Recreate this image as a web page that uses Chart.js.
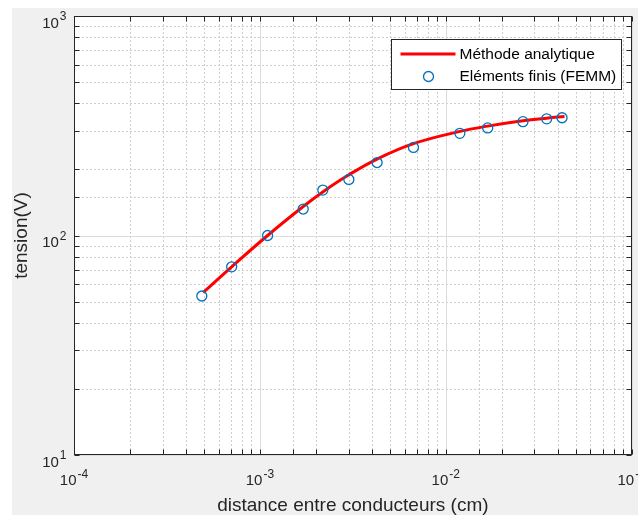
<!DOCTYPE html>
<html>
<head>
<meta charset="utf-8">
<script src="https://cdn.jsdelivr.net/npm/chart.js@4.4.1/dist/chart.umd.min.js"></script>
<style>
  html, body { margin: 0; padding: 0; background: #fff; overflow: hidden; }
  #wrap { position: absolute; left: 12px; top: 8px; width: 626px; height: 507px; background: #f0f0f0; }
</style>
</head>
<body>
<div id="wrap"><canvas id="myChart" width="626" height="507"></canvas></div>
<script>
// values (distance in cm, tension in V)
const femmDistance = [4.87e-4, 7.05e-4, 1.10e-3, 1.71e-3, 2.18e-3, 3.01e-3, 4.27e-3, 6.70e-3, 1.19e-2, 1.68e-2, 2.60e-2, 3.49e-2, 4.22e-2];
const femmTension = [53, 72, 100, 132, 161, 180, 215, 252, 292, 309, 330, 340, 344];

const analyticDistance = [4.95e-4, 7.05e-4, 1.10e-3, 1.71e-3, 2.18e-3, 3.01e-3, 4.27e-3, 6.70e-3, 1.19e-2, 1.68e-2, 2.60e-2, 3.49e-2, 4.35e-2];
const analyticTension = [55, 72, 100, 135.5, 158, 189, 223, 262, 298, 315, 333, 342.5, 348.5];

const xTicks = [1e-4, 1e-3, 1e-2, 1e-1];
const xTickLabels = ['10^-4', '10^-3', '10^-2', '10^-1'];
const yTicks = [1e1, 1e2, 1e3];
const yTickLabels = ['10^1', '10^2', '10^3'];

const FONT = '"Liberation Sans", Arial, Helvetica, sans-serif';
const INK = '#262626';

function isDecade(v) {
    const l = Math.log10(v);
    return Math.abs(l - Math.round(l)) < 1e-6;
}

function seg(ctx, x1, y1, x2, y2) {
    ctx.beginPath();
    ctx.moveTo(x1, y1);
    ctx.lineTo(x2, y2);
    ctx.stroke();
}

// "10^-3" -> 10 with a raised exponent
function drawPower(ctx, label, x, y, align) {
    const [base, exp] = label.split('^');
    ctx.font = '15px ' + FONT;
    const wb = ctx.measureText(base).width;
    ctx.font = '12px ' + FONT;
    const we = ctx.measureText(exp).width;
    const w = wb + we + 1;
    let x0 = align === 'right' ? x - w : x - w / 2;
    ctx.textAlign = 'left';
    ctx.textBaseline = 'alphabetic';
    ctx.fillStyle = INK;
    ctx.font = '15px ' + FONT;
    ctx.fillText(base, x0, y);
    ctx.font = '12px ' + FONT;
    ctx.fillText(exp, x0 + wb + 1, y - 7.5);
}

const matlabAxes = {
    id: 'matlabAxes',
    beforeDraw(chart) {
        const {ctx, chartArea: a} = chart;
        ctx.save();
        ctx.fillStyle = '#fff';
        ctx.fillRect(a.left, a.top, a.right - a.left, a.bottom - a.top);
        ctx.restore();
    },
    beforeDatasetsDraw(chart) {
        const {ctx, chartArea: a, scales: {x, y}} = chart;
        ctx.save();
        ctx.lineWidth = 1;
        // minor grid, dotted
        ctx.strokeStyle = '#cdcdcd';
        ctx.setLineDash([2, 2]);
        x.ticks.forEach(t => {
            if (isDecade(t.value)) return;
            const px = Math.round(x.getPixelForValue(t.value)) + 0.5;
            seg(ctx, px, a.top, px, a.bottom);
        });
        y.ticks.forEach(t => {
            if (isDecade(t.value)) return;
            const py = Math.round(y.getPixelForValue(t.value)) + 0.5;
            seg(ctx, a.left, py, a.right, py);
        });
        // major grid, solid
        ctx.setLineDash([]);
        ctx.strokeStyle = '#dcdcdc';
        xTicks.forEach(v => {
            const px = Math.round(x.getPixelForValue(v)) + 0.5;
            seg(ctx, px, a.top, px, a.bottom);
        });
        yTicks.forEach(v => {
            const py = Math.round(y.getPixelForValue(v)) + 0.5;
            seg(ctx, a.left, py, a.right, py);
        });
        ctx.restore();
    },
    afterDraw(chart) {
        const {ctx, chartArea: a, scales: {x, y}} = chart;
        ctx.save();
        ctx.strokeStyle = INK;
        ctx.lineWidth = 1;
        const L = Math.round(a.left) + 0.5, R = Math.round(a.right) - 0.5;
        const T = Math.round(a.top) + 0.5, B = Math.round(a.bottom) - 0.5;
        ctx.strokeRect(L, T, R - L, B - T);
        // inward ticks on all four sides
        const len = 5;
        x.ticks.forEach(t => {
            const px = Math.round(x.getPixelForValue(t.value)) + 0.5;
            seg(ctx, px, B, px, B - len);
            seg(ctx, px, T, px, T + len);
        });
        y.ticks.forEach(t => {
            const py = Math.round(y.getPixelForValue(t.value)) + 0.5;
            seg(ctx, L, py, L + len, py);
            seg(ctx, R, py, R - len, py);
        });
        // tick labels
        xTicks.forEach((v, i) => {
            drawPower(ctx, xTickLabels[i], x.getPixelForValue(v), a.bottom + 30, 'center');
        });
        yTicks.forEach((v, i) => {
            drawPower(ctx, yTickLabels[i], a.left - 7.5, y.getPixelForValue(v) + 11.5, 'right');
        });

        // legend box
        const bx = Math.round(a.right) - 241 + 0.5, by = Math.round(a.top) + 23 + 0.5;
        const bw = 230, bh = 50;
        ctx.fillStyle = '#fff';
        ctx.fillRect(bx, by, bw, bh);
        ctx.strokeStyle = INK;
        ctx.strokeRect(bx, by, bw, bh);
        const ds = chart.data.datasets;
        const lineDs = ds.find(d => d.showLine);
        const ptDs = ds.find(d => !d.showLine);
        ctx.font = '15.5px ' + FONT;
        ctx.textAlign = 'left';
        ctx.textBaseline = 'middle';
        // line entry
        ctx.strokeStyle = lineDs.borderColor;
        ctx.lineWidth = lineDs.borderWidth;
        seg(ctx, bx + 9, by + 14.5, bx + 64, by + 14.5);
        ctx.fillStyle = '#000';
        ctx.fillText(lineDs.label, bx + 68, by + 15);
        // marker entry
        ctx.strokeStyle = ptDs.borderColor;
        ctx.lineWidth = ptDs.borderWidth;
        ctx.beginPath();
        ctx.arc(bx + 37, by + 37, ptDs.pointRadius, 0, Math.PI * 2);
        ctx.stroke();
        ctx.fillText(ptDs.label, bx + 68, by + 37.5);
        ctx.restore();
    }
};

const ctx = document.getElementById('myChart');

new Chart(ctx, {
    type: 'scatter',
    data: {
        datasets: [{
            label: 'Eléments finis (FEMM)',
            data: femmDistance.map((d, i) => ({x: d, y: femmTension[i]})),
            showLine: false,
            pointStyle: 'circle',
            pointRadius: 5,
            pointHoverRadius: 5,
            borderColor: '#0072bd',
            backgroundColor: 'rgba(0,0,0,0)',
            borderWidth: 1.3,
            order: 1
        }, {
            label: 'Méthode analytique',
            data: analyticDistance.map((d, i) => ({x: d, y: analyticTension[i]})),
            showLine: true,
            pointRadius: 0,
            borderColor: '#ff0000',
            borderWidth: 3,
            tension: 0.4,
            order: 2
        }]
    },
    options: {
        responsive: false,
        animation: false,
        events: [],
        layout: { padding: { left: 0, top: 8, right: 6, bottom: 0 } },
        plugins: {
            legend: { display: false },
            tooltip: { enabled: false }
        },
        scales: {
            x: {
                type: 'logarithmic',
                min: xTicks[0],
                max: xTicks[xTicks.length - 1],
                grid: { display: false },
                border: { display: false },
                ticks: { display: false, autoSkip: false },
                title: {
                    display: true,
                    text: 'distance entre conducteurs (cm)',
                    color: INK,
                    font: { family: FONT, size: 19, lineHeight: 1 },
                    padding: { top: 0, bottom: 0 }
                },
                afterFit(s) { s.height = 60; s.paddingLeft = 0; s.paddingRight = 0; }
            },
            y: {
                type: 'logarithmic',
                min: yTicks[0],
                max: yTicks[yTicks.length - 1],
                grid: { display: false },
                border: { display: false },
                ticks: { display: false, autoSkip: false },
                title: {
                    display: true,
                    text: 'tension(V)',
                    color: INK,
                    font: { family: FONT, size: 19, lineHeight: 1 },
                    padding: { top: 0, bottom: 0 }
                },
                afterFit(s) { s.width = 62; s.paddingTop = 0; s.paddingBottom = 0; }
            }
        }
    },
    plugins: [matlabAxes]
});
</script>
</body>
</html>
